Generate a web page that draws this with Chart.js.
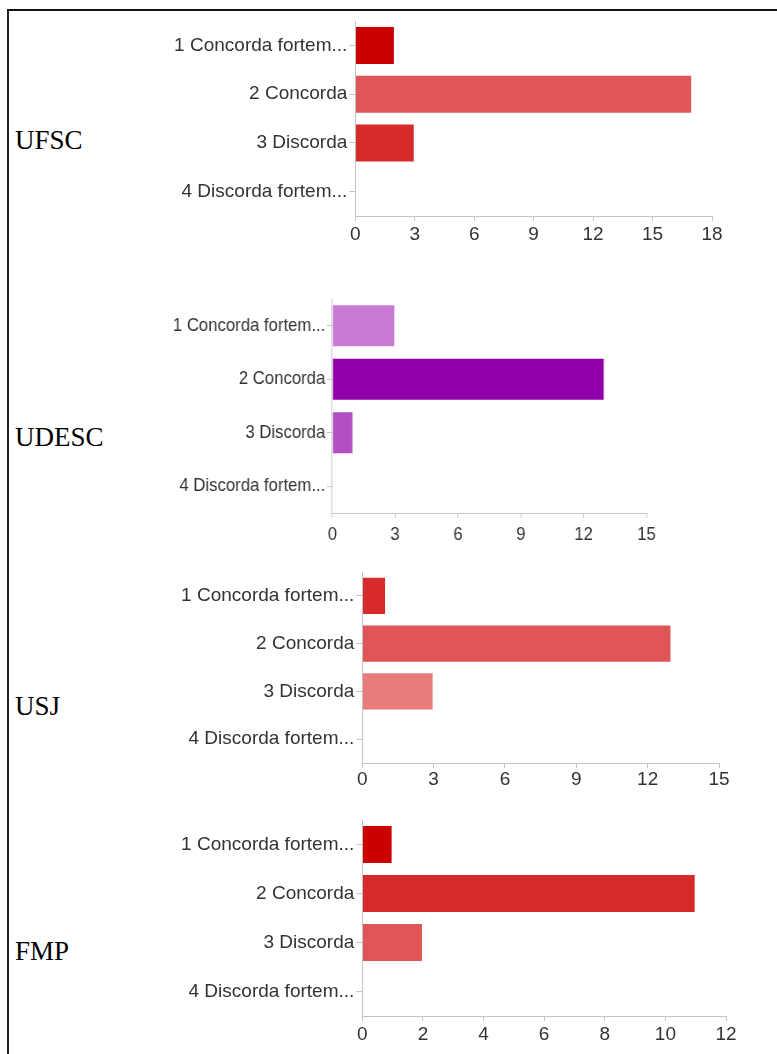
<!DOCTYPE html>
<html>
<head>
<meta charset="utf-8">
<script src="https://cdn.jsdelivr.net/npm/chart.js@4/dist/chart.umd.min.js"></script>
<style>
  body { margin: 0; background: #fff; }
  #page { position: relative; width: 777px; height: 1054px; overflow: hidden; background: #fff; }
  #frame { position: absolute; left: 7px; top: 9px; width: 820px; height: 1100px;
           border-top: 2px solid #111; border-left: 2px solid #222; }
  .uni { position: absolute; left: 15px; font: 27px/27px "Liberation Serif", "Times New Roman", serif; color: #000; }
  canvas { position: absolute; }
</style>
</head>
<body>
<div id="page">
  <div id="frame"></div>
  <div class="uni" style="top:127px">UFSC</div>
  <div class="uni" style="top:424px">UDESC</div>
  <div class="uni" style="top:693px">USJ</div>
  <div class="uni" style="top:938px">FMP</div>
  <canvas id="c1"></canvas>
  <canvas id="c2"></canvas>
  <canvas id="c3"></canvas>
  <canvas id="c4"></canvas>
</div>
<script>
// answer categories (same for all four schools)
const categories = ['1 Concorda fortem...', '2 Concorda', '3 Discorda', '4 Discorda fortem...']

// counts per school
const ufscValues = [2, 17, 3, 0]
const udescValues = [3, 13, 1, 0]
const usjValues = [1, 13, 3, 0]
const fmpValues = [1, 11, 2, 0]

// x axis tick labels
const ufscTicks = [0, 3, 6, 9, 12, 15, 18]
const udescTicks = [0, 3, 6, 9, 12, 15]
const usjTicks = [0, 3, 6, 9, 12, 15]
const fmpTicks = [0, 2, 4, 6, 8, 10, 12]

// bar colours
const ufscColors = ['#cc0000', '#e05555', '#d62b2b', '#cc0000']
const udescColors = ['#c87ad4', '#9000a8', '#b04ec2', '#9000a8']
const usjColors = ['#d82a2a', '#e05555', '#e87b7b', '#d82a2a']
const fmpColors = ['#cc0000', '#d62a2a', '#e05555', '#cc0000']

const canvasLeft = 100

// box = where the plot area sits on the page; sx squeezes the whole chart sideways (UDESC picture is narrower)
function drawBars(id, values, ticks, colors, box) {
    const padTop = 16, padBottom = 4, padRight = 24, xAxisH = 34
    const sx = box.sx || 1
    const left = canvasLeft + (box.left - canvasLeft) / sx
    const right = canvasLeft + (box.right - canvasLeft) / sx

    const cv = document.getElementById(id)
    cv.width = Math.round(right + padRight - canvasLeft)
    cv.height = Math.round(box.bottom - box.top + padTop + padBottom + xAxisH)
    cv.style.left = canvasLeft + 'px'
    cv.style.top = (box.top - padTop) + 'px'
    cv.style.transformOrigin = '0 0'
    cv.style.transform = 'scaleX(' + sx + ')'

    const font = { family: '"Liberation Sans", Arial, sans-serif', size: 19 }
    const data = {
        labels: categories,
        datasets: [{
            data: values,
            backgroundColor: colors,
            borderColor: 'rgba(255,255,255,0.35)',
            borderWidth: 1,
            barPercentage: 0.8,
            categoryPercentage: 1
        }]
    }

    const options = {
        indexAxis: 'y',
        responsive: false,
        animation: false,
        layout: { padding: { top: padTop, bottom: padBottom, right: padRight, left: 0 } },
        plugins: { legend: { display: false }, tooltip: { enabled: false } },
        scales: {
            x: {
                min: ticks[0],
                max: ticks[ticks.length - 1],
                afterFit: s => { s.height = xAxisH },
                ticks: { stepSize: ticks[1] - ticks[0], color: '#333', font, padding: box.tickPad },
                grid: { drawOnChartArea: false, drawTicks: true, tickLength: 5, color: '#c4c4c4' },
                border: { color: '#c4c4c4' }
            },
            y: {
                afterFit: s => { s.width = left - canvasLeft },
                ticks: { color: '#333', font, padding: 2, autoSkip: false },
                grid: { drawOnChartArea: false, offset: false, tickLength: 6, color: '#c4c4c4' },
                border: { color: '#c4c4c4' }
            }
        }
    }

    new Chart(cv, { type: 'bar', data, options })
}

drawBars('c1', ufscValues, ufscTicks, ufscColors, { top: 20.5, bottom: 215, left: 355.3, right: 712, tickPad: 2 })
drawBars('c2', udescValues, udescTicks, udescColors, { top: 298.5, bottom: 512.5, left: 332.3, right: 646.7, tickPad: 5, sx: 0.88 })
drawBars('c3', usjValues, usjTicks, usjColors, { top: 572, bottom: 763, left: 362.3, right: 719.3, tickPad: 0 })
drawBars('c4', fmpValues, fmpTicks, fmpColors, { top: 820, bottom: 1016, left: 362.3, right: 725.7, tickPad: 2 })
</script>
</body>
</html>
